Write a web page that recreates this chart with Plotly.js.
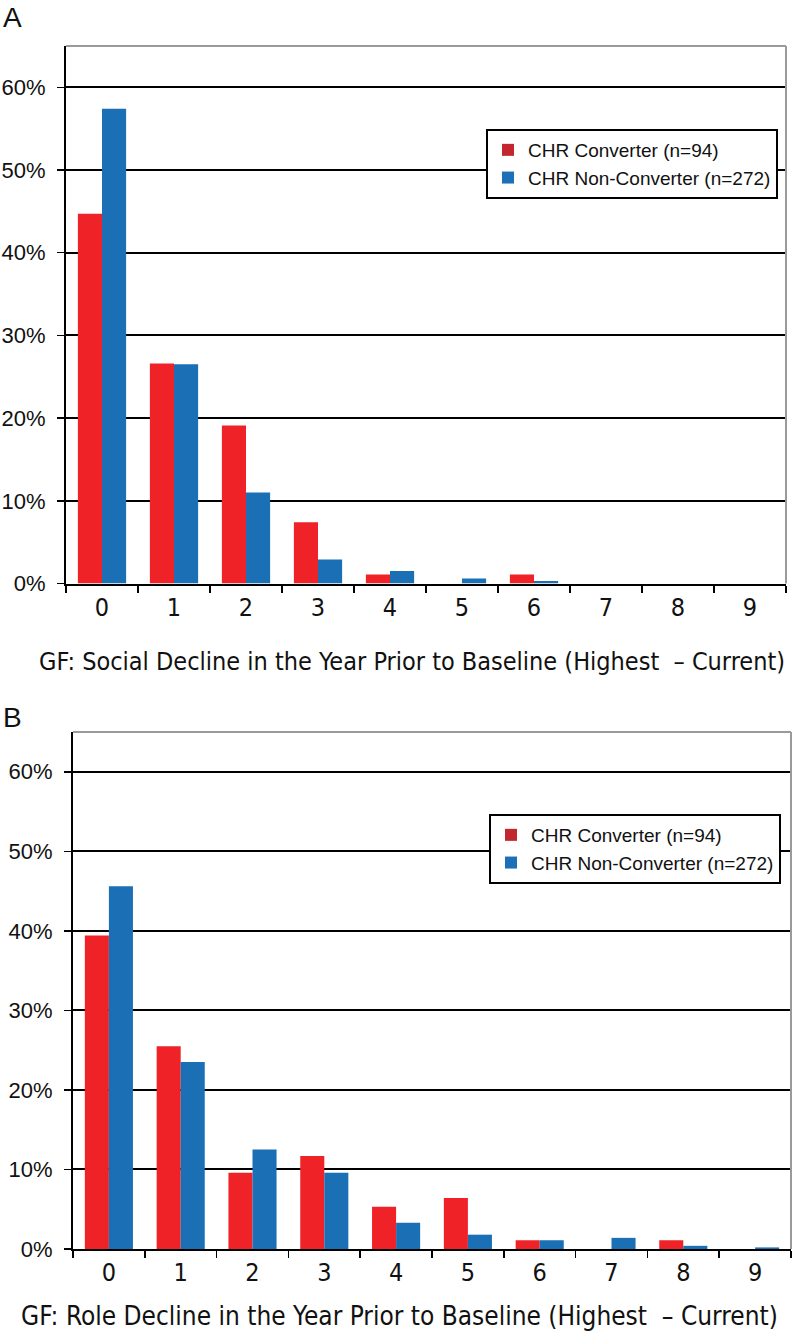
<!DOCTYPE html>
<html>
<head>
<meta charset="utf-8">
<script src="https://cdn.plot.ly/plotly-3.0.1.min.js"></script>
<style>html,body{margin:0;padding:0;background:#fff;}#chart{width:793px;height:1334px;}</style>
</head>
<body>
<div id="chart"></div>
<script>
// Categories (decline in GF score, Highest - Current)
const categories = ['0','1','2','3','4','5','6','7','8','9'];
// Panel A: GF Social decline (% of group)
const socialConverter    = [44.7, 26.6, 19.1, 7.4, 1.1, 0, 1.1, 0, 0, 0];
const socialNonConverter = [57.4, 26.5, 11.0, 2.9, 1.5, 0.6, 0.3, 0, 0, 0];
// Panel B: GF Role decline (% of group)
const roleConverter      = [39.4, 25.5, 9.6, 11.7, 5.3, 6.4, 1.1, 0, 1.1, 0];
const roleNonConverter   = [45.6, 23.5, 12.5, 9.6, 3.3, 1.8, 1.1, 1.4, 0.4, 0.2];
const seriesNames = ['CHR Converter (n=94)', 'CHR Non-Converter (n=272)'];
const yTicks = [0, 10, 20, 30, 40, 50, 60];
const yTickText = yTicks.map(v => v + '%');
const panelLetters = ['A', 'B'];
const xTitles = ['GF: Social Decline in the Year Prior to Baseline (Highest  \u2013 Current)',
                 'GF: Role Decline in the Year Prior to Baseline (Highest  \u2013 Current)'];

const RED = '#EE2227', BLUE = '#1B6FB5';
const RED_LEG = '#C1272D', BLUE_LEG = '#1C70B8';
const W = 793, H = 1334;
const px = v => v / W, py = v => 1 - v / H;

function barTrace(y, name, color, xa, ya) {
  return {type:'bar', x: categories, y: y, name: name, xaxis: xa, yaxis: ya,
    marker:{color: color, line:{width: 0}}, showlegend:false, hoverinfo:'x+y'};
}
function legTrace(name, color, leg, grp) {
  return {type:'bar', x:['0'], y:[0], name:name, xaxis:'x3', yaxis:'y3', legend: leg,
    legendgroup: grp, marker:{color: color, line:{width:0}}, showlegend:true, hoverinfo:'skip'};
}

const data = [
  barTrace(socialConverter, seriesNames[0], RED, 'x', 'y'),
  barTrace(socialNonConverter, seriesNames[1], BLUE, 'x', 'y'),
  barTrace(roleConverter, seriesNames[0], RED, 'x2', 'y2'),
  barTrace(roleNonConverter, seriesNames[1], BLUE, 'x2', 'y2'),
  legTrace(seriesNames[0], RED_LEG, 'legend', 'a1'),
  legTrace(seriesNames[1], BLUE_LEG, 'legend', 'a2'),
  legTrace(seriesNames[0], RED_LEG, 'legend2', 'b1'),
  legTrace(seriesNames[1], BLUE_LEG, 'legend2', 'b2')
];

const tickFontY = {family:'Liberation Sans, Arial, sans-serif', size:22, color:'#111'};
const narrow = 'DejaVu Sans Condensed, Liberation Sans Narrow, sans-serif';
const tickFontX = {family: narrow, size:25, color:'#111'};

function xAxis(dom, anchor) {
  return {domain: dom, anchor: anchor, type:'category', categoryarray: categories,
    showline:true, linecolor:'#000', linewidth:2, ticks:'outside', tickson:'boundaries',
    ticklen:7, tickwidth:1.5, tickcolor:'#000', showgrid:false, tickfont: tickFontX,
    fixedrange:true};
}
function yAxis(dom, anchor) {
  return {domain: dom, anchor: anchor, range:[0, 65], tickmode:'array', tickvals: yTicks, ticktext: yTickText,
    showline:true, linecolor:'#000', linewidth:2, ticks:'outside', ticklen:7, tickwidth:1.5,
    tickcolor:'#000', showgrid:true, gridcolor:'#000', gridwidth:2, zeroline:false,
    tickfont: tickFontY, ticklabelstandoff: 7, fixedrange:true};
}

const legendBase = {bgcolor:'#fff', bordercolor:'#000', borderwidth:2, xanchor:'left', yanchor:'top',
  font:{family:'Liberation Sans, Arial, sans-serif', size:19, color:'#111'}, tracegroupgap:7,
  itemwidth:30, traceorder:'normal'};

const layout = {
  width: W, height: H, margin:{l:0, r:0, t:0, b:0}, paper_bgcolor:'#fff', plot_bgcolor:'#fff',
  barmode:'group', bargap:0.33, bargroupgap:0,
  xaxis: xAxis([px(66), px(786)], 'y'),
  yaxis: yAxis([py(583.5), py(46)], 'x'),
  xaxis2: xAxis([px(73), px(791)], 'y2'),
  yaxis2: yAxis([py(1249), py(732)], 'x2'),
  xaxis3: {domain:[0, 0.01], anchor:'y3', visible:false, fixedrange:true},
  yaxis3: {domain:[0, 0.01], anchor:'x3', visible:false, range:[0,1], fixedrange:true},
  legend: Object.assign({x: px(486), y: py(129)}, legendBase),
  legend2: Object.assign({x: px(489), y: py(814)}, legendBase),
  shapes: [
    {type:'line', xref:'x domain', yref:'y domain', x0:0, x1:1, y0:1, y1:1, line:{color:'#9a9a9a', width:2}},
    {type:'line', xref:'x domain', yref:'y domain', x0:1, x1:1, y0:0, y1:1, line:{color:'#9a9a9a', width:2}},
    {type:'line', xref:'x2 domain', yref:'y2 domain', x0:0, x1:1, y0:1, y1:1, line:{color:'#9a9a9a', width:2}},
    {type:'line', xref:'x2 domain', yref:'y2 domain', x0:1, x1:1, y0:0, y1:1, line:{color:'#9a9a9a', width:2}}
  ],
  annotations: [
    {text: panelLetters[0], xref:'paper', yref:'paper', x: px(1), y: py(18), xanchor:'left', yanchor:'middle',
     showarrow:false, font:{family:'Liberation Sans, Arial, sans-serif', size:28, color:'#111'}},
    {text: panelLetters[1], xref:'paper', yref:'paper', x: px(1), y: py(717), xanchor:'left', yanchor:'middle',
     showarrow:false, font:{family:'Liberation Sans, Arial, sans-serif', size:28, color:'#111'}},
    {text: xTitles[0], xref:'paper', yref:'paper', x: px(412), y: py(661), xanchor:'center', yanchor:'middle',
     showarrow:false, font:{family: narrow, size:25, color:'#111'}},
    {text: xTitles[1], xref:'paper', yref:'paper', x: px(399), y: py(1316), xanchor:'center', yanchor:'middle',
     showarrow:false, font:{family: narrow, size:26, color:'#111'}}
  ]
};

Plotly.newPlot('chart', data, layout, {displayModeBar:false, staticPlot:true});
</script>
</body>
</html>
